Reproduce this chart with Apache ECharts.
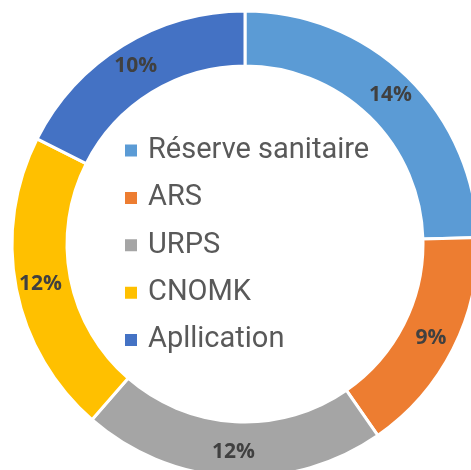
<!DOCTYPE html>
<html><head><meta charset="utf-8">
<script src="https://cdn.jsdelivr.net/npm/echarts@6/dist/echarts.min.js"></script>
<style>html,body{margin:0;padding:0;background:#fff}#c{width:471px;height:470px}</style>
</head><body><div id="c"></div>
<script>
const categories = ['Réserve sanitaire', 'ARS', 'URPS', 'CNOMK', 'Apllication'];
const values = [14, 9, 12, 12, 10];
const colors = ['#5B9BD5', '#ED7D31', '#A5A5A5', '#FFC000', '#4472C4'];

const chart = echarts.init(document.getElementById('c'), null, {renderer: 'canvas'});
chart.setOption({
  animation: false,
  color: colors,
  legend: {
    orient: 'vertical',
    left: 123,
    top: 136,
    padding: 0,
    icon: 'rect',
    itemWidth: 14,
    itemHeight: 14,
    itemGap: 18.4,
    textStyle: {fontFamily: 'Roboto', fontSize: 29, color: '#595959', lineHeight: 25, padding: [0, 0, 0, 5]},
    data: categories
  },
  series: [{
    type: 'pie',
    center: [245, 244],
    radius: [178, 233],
    startAngle: 90,
    clockwise: true,
    avoidLabelOverlap: false,
    itemStyle: {borderColor: '#fff', borderWidth: 3},
    label: {show: true, position: 'inside', formatter: '{c}%', fontFamily: 'Open Sans', fontWeight: 'bold', fontSize: 21, color: '#404040'},
    labelLine: {show: false},
    emphasis: {disabled: true},
    data: categories.map((n, i) => ({name: n, value: values[i]}))
  }]
});
</script></body></html>
